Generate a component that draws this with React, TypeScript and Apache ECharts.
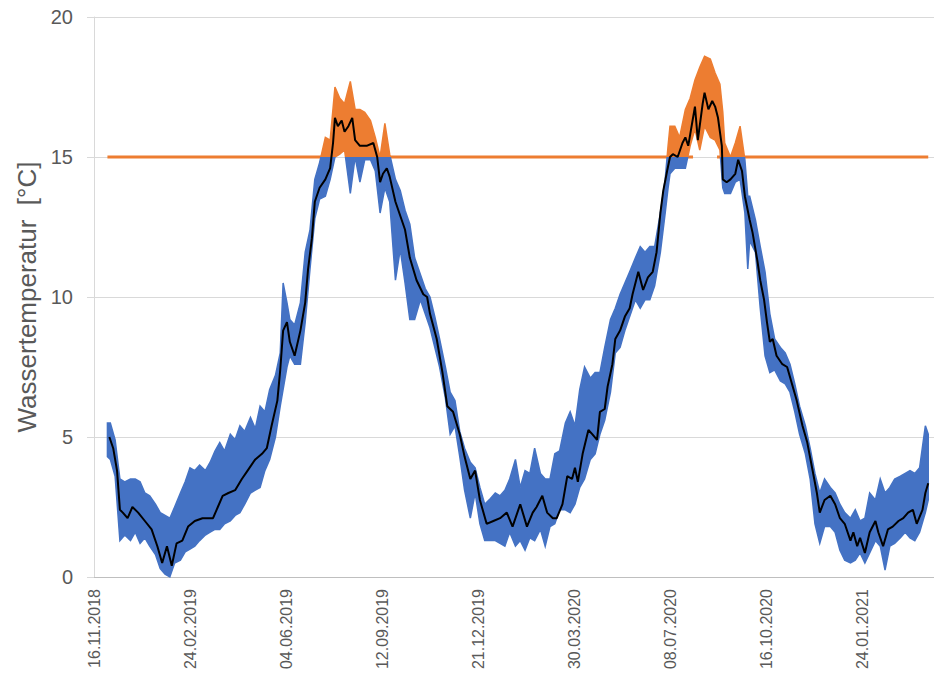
import React, { useEffect, useRef } from "react";
import * as echarts from "echarts";

// Day offsets are counted from 16.11.2018
const START_UTC = Date.UTC(2018, 10, 16);
const X_MAX = 875;
const THRESHOLD = 15;
const FONT = "'Liberation Sans', Arial, sans-serif";

// Daily mean water temperature (black line)
const meanDays = [16, 20, 24, 27, 30, 35, 40, 46, 53, 60, 66, 71, 76, 81, 86, 92, 98, 105, 113, 119, 124, 129, 134, 140, 147, 154, 160, 168, 175, 180, 185, 191, 194, 197, 201, 204, 209, 215, 220, 223, 227, 230, 235, 241, 246, 249, 251, 254, 258, 261, 265, 269, 272, 277, 284, 291, 295, 298, 301, 305, 308, 314, 319, 324, 329, 336, 343, 347, 350, 357, 363, 368, 374, 381, 386, 392, 397, 402, 409, 416, 423, 430, 436, 444, 451, 457, 461, 467, 472, 478, 482, 488, 493, 498, 501, 504, 509, 515, 519, 524, 527, 532, 535, 540, 543, 548, 553, 558, 561, 567, 572, 577, 582, 586, 590, 593, 597, 600, 603, 608, 613, 616, 619, 623, 626, 629, 634, 636, 640, 644, 647, 650, 654, 655, 659, 663, 668, 671, 675, 678, 683, 686, 691, 694, 698, 701, 704, 707, 711, 717, 722, 727, 732, 738, 743, 748, 753, 756, 761, 767, 772, 777, 782, 788, 791, 795, 798, 803, 808, 814, 817, 822, 827, 832, 838, 843, 848, 853, 857, 863, 866, 869];
const meanTemp = [5.0, 4.6, 3.8, 2.4, 2.3, 2.1, 2.5, 2.3, 2.0, 1.7, 1.1, 0.5, 1.1, 0.4, 1.2, 1.3, 1.8, 2.0, 2.1, 2.1, 2.1, 2.5, 2.9, 3.0, 3.1, 3.5, 3.8, 4.2, 4.4, 4.6, 5.4, 6.3, 7.4, 8.8, 9.1, 8.4, 7.9, 8.8, 9.8, 11.0, 12.1, 13.4, 13.9, 14.2, 14.6, 15.5, 16.4, 16.1, 16.3, 15.9, 16.1, 16.4, 15.6, 15.4, 15.4, 15.5, 15.0, 14.1, 14.4, 14.6, 14.3, 13.4, 12.9, 12.4, 11.4, 10.6, 10.1, 10.0, 9.4, 8.5, 7.3, 6.1, 5.9, 5.1, 4.3, 3.5, 3.8, 2.75, 1.9, 2.0, 2.1, 2.3, 1.8, 2.6, 1.8, 2.3, 2.5, 2.9, 2.3, 2.1, 2.1, 2.6, 3.6, 3.5, 3.9, 3.4, 4.4, 5.25, 5.1, 4.9, 5.9, 6.0, 6.8, 7.6, 8.5, 8.8, 9.3, 9.6, 10.1, 10.9, 10.25, 10.7, 10.9, 11.6, 13.0, 13.8, 14.5, 15.0, 15.1, 15.0, 15.5, 15.7, 15.4, 16.2, 16.8, 15.6, 16.9, 17.3, 16.7, 17.0, 16.8, 16.4, 15.4, 14.2, 14.1, 14.2, 14.4, 14.9, 14.5, 13.6, 12.75, 12.3, 11.3, 10.6, 9.9, 9.1, 8.4, 8.5, 7.9, 7.6, 7.5, 6.9, 6.3, 5.4, 4.8, 3.9, 3.0, 2.3, 2.75, 2.9, 2.6, 2.1, 1.9, 1.3, 1.6, 1.1, 1.4, 0.86, 1.6, 2.0, 1.6, 1.1, 1.7, 1.8, 2.0, 2.1, 2.3, 2.4, 1.9, 2.4, 3.0, 3.35];

// Range of the hourly readings (blue below 15 °C / orange above)
const bandDays = [14, 17, 22, 27, 32, 38, 43, 48, 53, 58, 64, 69, 74, 79, 84, 90, 95, 100, 105, 110, 116, 121, 126, 131, 136, 142, 147, 152, 157, 163, 168, 173, 178, 183, 189, 194, 197, 201, 204, 209, 215, 220, 225, 230, 235, 241, 246, 251, 256, 261, 267, 272, 277, 282, 288, 293, 298, 303, 308, 314, 319, 324, 329, 334, 340, 345, 350, 355, 360, 366, 371, 376, 381, 386, 392, 397, 402, 407, 413, 418, 423, 428, 433, 439, 444, 449, 454, 459, 465, 470, 475, 480, 485, 491, 496, 501, 506, 511, 517, 522, 527, 532, 538, 543, 548, 553, 558, 564, 569, 574, 579, 584, 590, 595, 598, 600, 605, 610, 616, 621, 626, 631, 636, 642, 647, 652, 655, 657, 663, 668, 673, 678, 681, 683, 689, 694, 699, 704, 709, 715, 720, 725, 730, 735, 741, 746, 751, 756, 761, 767, 772, 777, 782, 788, 793, 798, 803, 808, 814, 819, 824, 829, 834, 840, 845, 850, 855, 860, 866, 869];
const bandLow = [4.3, 4.2, 3.6, 1.3, 1.5, 1.3, 1.6, 1.2, 1.4, 1.1, 0.8, 0.3, 0.1, 0.0, 0.5, 0.6, 0.9, 1.0, 1.1, 1.3, 1.5, 1.6, 1.7, 1.7, 1.9, 2.0, 2.2, 2.3, 2.6, 3.0, 3.1, 3.2, 3.8, 4.2, 5.0, 6.1, 6.7, 7.5, 7.9, 7.6, 7.6, 9.1, 11.0, 12.8, 13.5, 13.6, 14.2, 15.0, 15.1, 15.25, 13.7, 15.0, 14.1, 14.9, 14.9, 14.5, 13.0, 13.9, 13.4, 10.6, 11.7, 10.5, 9.2, 9.2, 9.9, 9.4, 8.9, 8.2, 7.5, 6.4, 5.1, 5.4, 4.3, 3.1, 2.1, 3.0, 1.9, 1.3, 1.3, 1.3, 1.2, 1.1, 1.6, 1.1, 1.3, 0.96, 1.4, 1.3, 1.7, 1.1, 1.8, 1.9, 2.4, 2.4, 2.3, 2.6, 3.2, 3.5, 4.2, 4.4, 5.1, 5.6, 6.6, 8.0, 8.2, 8.8, 9.3, 9.9, 9.6, 9.9, 9.9, 10.4, 11.6, 13.0, 13.9, 14.4, 14.6, 14.6, 14.6, 15.4, 16.0, 15.25, 16.1, 15.7, 15.6, 15.25, 13.9, 13.7, 13.7, 14.1, 14.2, 13.0, 11.0, 12.0, 11.6, 9.6, 7.9, 7.3, 7.4, 7.0, 6.9, 6.6, 5.9, 5.1, 4.4, 3.5, 1.9, 1.2, 1.8, 1.8, 1.6, 0.96, 0.6, 0.5, 0.6, 0.86, 0.5, 0.86, 1.3, 1.1, 0.25, 1.1, 1.2, 1.4, 1.6, 1.4, 1.3, 1.6, 2.3, 2.75];
const bandHigh = [5.5, 5.5, 4.9, 3.5, 3.4, 3.5, 3.5, 3.4, 3.0, 2.9, 2.6, 2.3, 2.2, 2.1, 2.5, 3.0, 3.4, 3.9, 3.8, 4.0, 3.8, 4.1, 4.5, 4.8, 4.5, 5.1, 4.9, 5.4, 5.2, 5.7, 5.3, 6.1, 5.9, 6.7, 7.2, 8.0, 10.5, 9.8, 9.2, 9.0, 9.8, 11.6, 12.4, 14.2, 14.8, 15.7, 15.6, 17.5, 17.1, 16.9, 17.7, 16.7, 16.7, 16.6, 16.3, 15.7, 15.0, 16.2, 15.1, 14.2, 13.8, 13.1, 12.6, 11.4, 10.8, 10.3, 10.0, 9.3, 8.5, 7.5, 6.6, 6.3, 5.2, 4.6, 4.1, 3.9, 3.2, 2.6, 2.8, 3.0, 2.9, 3.1, 3.5, 4.2, 3.2, 3.8, 3.7, 4.6, 3.7, 3.5, 3.5, 4.4, 4.5, 5.5, 5.9, 5.4, 6.7, 7.5, 7.1, 7.3, 7.3, 8.2, 9.2, 9.6, 10.1, 10.5, 10.9, 11.4, 11.8, 11.6, 11.8, 11.8, 13.0, 14.2, 15.4, 16.1, 16.1, 15.7, 16.7, 17.1, 17.75, 18.2, 18.6, 18.5, 18.0, 17.6, 16.6, 15.5, 15.0, 15.5, 16.1, 14.9, 13.6, 13.6, 12.75, 11.8, 10.9, 9.4, 8.5, 8.2, 8.0, 7.6, 6.9, 6.1, 5.4, 4.6, 3.7, 3.0, 3.5, 3.2, 3.0, 2.6, 2.3, 2.1, 2.4, 2.0, 2.1, 3.0, 2.75, 3.5, 3.0, 3.2, 3.5, 3.6, 3.7, 3.8, 3.7, 3.9, 5.4, 5.1];

// Orange 15 °C line: segments [fromDay, toDay] where it is visible
const thresholdSegments = [[14, 249], [267, 624], [649, 869]];

const BLUE = "#4472C4";
const ORANGE = "#ED7D31";
const GRID = "#D9D9D9";
const TEXT = "#595959";

function formatDay(v: number): string {
  const dt = new Date(START_UTC + Math.round(v) * 86400000);
  const dd = String(dt.getUTCDate()).padStart(2, "0");
  const mm = String(dt.getUTCMonth() + 1).padStart(2, "0");
  return `${dd}.${mm}.${dt.getUTCFullYear()}`;
}

export default function App() {
  const ref = useRef<HTMLDivElement>(null);

  useEffect(() => {
    if (!ref.current) return;
    const chart = echarts.init(ref.current, null, { renderer: "svg" });

    const n = Math.min(bandDays.length, bandLow.length, bandHigh.length);
    const bandData: any[] = [];
    for (let i = 0; i < n; i++) bandData.push([bandDays[i], bandLow[i], bandHigh[i]]);

    const m = Math.min(meanDays.length, meanTemp.length);
    const meanData: any[] = [];
    for (let i = 0; i < m; i++) meanData.push([meanDays[i], meanTemp[i]]);

    const thrData: any[] = [];
    thresholdSegments.forEach(([a, b], i) => {
      if (i > 0) thrData.push([a - 0.5, "-"]);
      thrData.push([a, THRESHOLD]);
      thrData.push([b, THRESHOLD]);
    });

    const renderBand = (params: any, api: any) => {
      if (params.dataIndex !== 0) return null;
      const pts: number[][] = [];
      for (let i = 0; i < n; i++) pts.push(api.coord([bandDays[i], bandHigh[i]]));
      for (let i = n - 1; i >= 0; i--) pts.push(api.coord([bandDays[i], bandLow[i]]));
      const h = api.getHeight();
      const y15 = api.coord([0, THRESHOLD])[1];
      const o = Math.max(0, Math.min(1, y15 / h));
      const grad = new echarts.graphic.LinearGradient(
        0, 0, 0, h,
        [
          { offset: 0, color: ORANGE },
          { offset: o, color: ORANGE },
          { offset: o, color: BLUE },
          { offset: 1, color: BLUE },
        ],
        true
      );
      return {
        type: "polygon",
        shape: { points: pts },
        style: { fill: grad, stroke: grad, lineWidth: 1.5, lineJoin: "miter" },
      };
    };

    chart.setOption({
      animation: false,
      textStyle: { fontFamily: FONT },
      grid: { left: 94, right: 0, top: 17, bottom: 103, containLabel: false },
      xAxis: {
        type: "value",
        min: 0,
        max: X_MAX,
        interval: 100,
        axisLine: { show: true, lineStyle: { color: "#BFBFBF", width: 1 } },
        axisTick: { show: false },
        splitLine: { show: false },
        axisLabel: {
          rotate: 90,
          margin: 12,
          fontSize: 16,
          color: TEXT,
          fontFamily: FONT,
          showMaxLabel: false,
          formatter: (v: number) => formatDay(v),
        },
      },
      yAxis: {
        type: "value",
        min: 0,
        max: 20,
        interval: 5,
        axisLine: { show: true, lineStyle: { color: GRID, width: 1 } },
        axisTick: { show: true, length: 7, lineStyle: { color: GRID } },
        splitLine: { show: true, lineStyle: { color: GRID, width: 1 } },
        axisLabel: { fontSize: 20, color: TEXT, margin: 21, fontFamily: FONT },
      },
      graphic: [
        {
          type: "text",
          x: 27,
          y: 297,
          rotation: Math.PI / 2,
          style: {
            text: "Wassertemperatur  [°C]",
            fontSize: 26,
            fontFamily: FONT,
            fill: TEXT,
            textAlign: "center",
            textVerticalAlign: "middle",
          },
        },
      ],
      series: [
        {
          name: "Grenzwert",
          type: "line",
          data: thrData,
          symbol: "none",
          silent: true,
          connectNulls: false,
          lineStyle: { color: ORANGE, width: 3 },
          z: 2,
        },
        {
          name: "Stundenwerte",
          type: "custom",
          data: bandData,
          encode: { x: 0, y: [1, 2] },
          renderItem: renderBand,
          silent: true,
          z: 3,
        },
        {
          name: "Tagesmittel",
          type: "line",
          data: meanData,
          symbol: "none",
          silent: true,
          lineStyle: { color: "#000000", width: 2 },
          z: 4,
        },
      ],
    });

    return () => chart.dispose();
  }, []);

  return (
    <div
      ref={ref}
      style={{ position: "absolute", left: 0, top: 0, width: 934, height: 680 }}
    />
  );
}
